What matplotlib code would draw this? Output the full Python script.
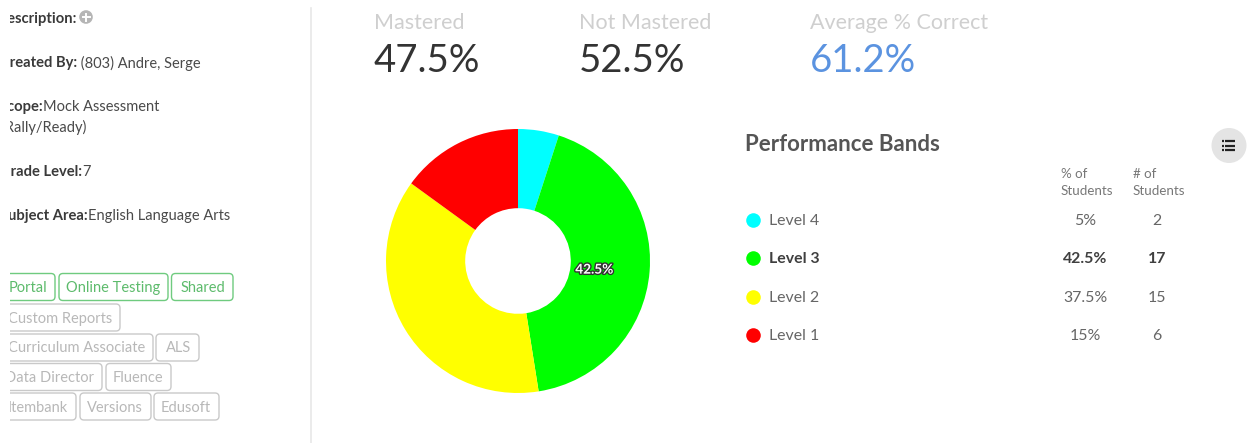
import matplotlib
matplotlib.use("Agg")
import matplotlib.pyplot as plt
import matplotlib.patheffects as pe
from matplotlib.patches import FancyBboxPatch, Rectangle, Circle

plt.rcParams['font.family'] = ['Lato', 'DejaVu Sans']

levels = ["Level 4", "Level 3", "Level 2", "Level 1"]
pct_students = [5, 42.5, 37.5, 15]
num_students = [2, 17, 15, 6]
band_colors = ["#00FFFF", "#00FF00", "#FFFF00", "#FF0000"]
highlight = "Level 3"

summary_titles = ["Mastered", "Not Mastered", "Average % Correct"]
summary_values = ["47.5%", "52.5%", "61.2%"]
summary_colors = ["#333333", "#333333", "#5B93E0"]
summary_x = [374, 579, 810]

meta_rows = [("Description:", "", 77, 18.5), ("Created By:", " (803) Andre, Serge", 77, 63),
             ("Scope:", "Mock Assessment", 43, 107), ("", "(Rally/Ready)", 1, 127),
             ("Grade Level:", "7", 82, 172), ("Subject Area:", "English Language Arts", 88, 215.5)]

tags = [("Portal", 2, 55, 273.5, 1), ("Online Testing", 59, 168, 273.5, 1), ("Shared", 171.5, 233, 273.5, 1),
        ("Custom Reports", 2, 120, 304, 0),
        ("Curriculum Associate", 2, 153, 334, 0), ("ALS", 156, 199, 334, 0),
        ("Data Director", 2, 102, 363.5, 0), ("Fluence", 106, 171, 363.5, 0),
        ("Itembank", 2, 76, 393, 0), ("Versions", 80, 151, 393, 0), ("Edusoft", 154, 219, 393, 0)]

W, H = 1248, 443
fig = plt.figure(figsize=(W / 100, H / 100), dpi=100, facecolor="white")
bg = fig.add_axes([0, 0, 1, 1])
bg.set_xlim(0, W); bg.set_ylim(H, 0); bg.axis("off")

clip = Rectangle((10, 0), 300, H, transform=bg.transData, fill=False, edgecolor="none")
bg.add_patch(clip)

# left panel
for bold, normal, xb, y in meta_rows:
    if bold:
        t = bg.text(xb, y, bold, ha="right", va="center", fontsize=10.6, fontweight="bold", color="#3a3a3a")
        t.set_clip_path(clip); t.set_clip_on(True)
    if normal:
        t = bg.text(xb, y, normal, ha="left", va="center", fontsize=10.5, color="#4a4a4a")
        t.set_clip_path(clip); t.set_clip_on(True)
bg.add_patch(Circle((86, 17), 6.8, color="#b5b5b5", lw=0))
bg.plot([82.5, 89.5], [17, 17], color="white", lw=1.4)
bg.plot([86, 86], [13.5, 20.5], color="white", lw=1.4)

for name, x0, x1, y0, active in tags:
    ec = "#6FCB7F" if active else "#c9c9c9"
    tc = "#5DBB6C" if active else "#b8b8b8"
    p = FancyBboxPatch((x0 + 2, y0 + 2), x1 - x0 - 4, 27 - 4,
                       boxstyle="round,pad=2,rounding_size=4", lw=1.0, ec=ec, fc="white",
                       mutation_aspect=1, clip_on=True)
    bg.add_patch(p)
    p.set_clip_path(clip)
    t = bg.text(x1 - 8, y0 + 14.5, name, ha="right", va="center", fontsize=10.5, color=tc)
    t.set_clip_path(clip); t.set_clip_on(True)

bg.plot([310.5, 310.5], [8, H], color="#e8e8e8", lw=1.2)

# summary
for title, value, color, x in zip(summary_titles, summary_values, summary_colors, summary_x):
    bg.text(x, 22.5, title, ha="left", va="center", fontsize=15.5, color="#cfcfcf")
    bg.text(x, 61, value, ha="left", va="center", fontsize=27.5, color=color)

# doughnut
cx, cy, R = 518, 261, 132
pie_ax = fig.add_axes([(cx - R) / W, 1 - (cy + R) / H, 2 * R / W, 2 * R / H])
wedges, _, autotexts = pie_ax.pie(
    pct_students, colors=band_colors, startangle=90, counterclock=False, radius=1,
    wedgeprops=dict(width=0.6, linewidth=0),
    autopct=lambda p: f"{p:.1f}%" if p > 40 else "", pctdistance=0.58,
    textprops=dict(fontsize=9.8, fontweight="bold", color="white"))
for a in autotexts:
    a.set_path_effects([pe.withStroke(linewidth=2, foreground="#333333")])
    px, py = a.get_position()
    a.set_position((px, py - 0.02))
pie_ax.set_xlim(-1, 1); pie_ax.set_ylim(-1, 1)

# legend table
bg.text(745, 144.5, "Performance Bands", ha="left", va="center", fontsize=16, fontweight="bold", color="#555555")
for x, lab in [(1061, "% of\nStudents"), (1133, "# of\nStudents")]:
    bg.text(x, 182.5, lab, ha="left", va="center", fontsize=9.6, color="#777777", linespacing=1.55)

row_y = [221, 259, 297.5, 336]
for lab, pct, n, col, y in zip(levels, pct_students, num_students, band_colors, row_y):
    strong = lab == highlight
    w = "bold" if strong else "normal"
    c = "#3f3f3f" if strong else "#666666"
    bg.scatter([752.5], [y - 1], s=110, color=col, linewidths=0, zorder=3)
    bg.text(769, y, lab, ha="left", va="center", fontsize=11.4, fontweight=w, color=c)
    bg.text(1085, y, f"{pct:g}%", ha="center", va="center", fontsize=11.4, fontweight=w, color=c)
    bg.text(1157, y, f"{n}", ha="center", va="center", fontsize=11.4, fontweight=w, color=c)

# list button
bg.add_patch(Circle((1229, 145.5), 17.5, color="#e4e4e4", lw=0))
for y in [141, 145.5, 150]:
    bg.plot([1224.5, 1235], [y, y], color="#222222", lw=1.6, solid_capstyle="butt")
    bg.plot([1222, 1223.5], [y, y], color="#222222", lw=1.6, solid_capstyle="butt")

fig.savefig("out.png", dpi=100)
